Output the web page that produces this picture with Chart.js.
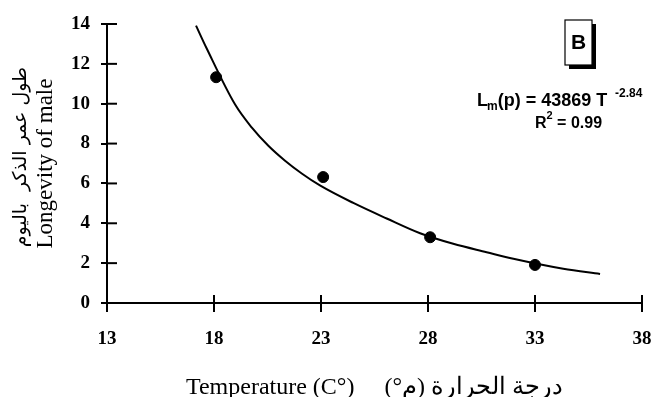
<!DOCTYPE html>
<html>
<head>
<meta charset="utf-8">
<script src="https://cdn.jsdelivr.net/npm/chart.js@4.4.1/dist/chart.umd.min.js"></script>
<style>
  html, body { margin: 0; padding: 0; background: #fff; }
  #wrap { width: 655px; height: 397px; }
</style>
</head>
<body>
<div id="wrap"><canvas id="chart" width="655" height="397"></canvas></div>
<script>
// fitted curve
const curveTemps = [17.16, 17.66, 18.98, 19.76, 20.54, 21.32, 22.1, 22.95, 24.51, 26.07, 27.63, 29.18, 30.74, 31.99, 34.32, 36.04];
const curveLongevity = [13.92, 12.77, 9.97, 8.81, 7.89, 7.14, 6.5, 5.9, 5.02, 4.24, 3.5, 2.97, 2.55, 2.22, 1.72, 1.46];

// observed points
const obsTemps = [18.1, 23.1, 28.1, 33.0];
const obsLongevity = [11.33, 6.32, 3.3, 1.91];

// axis ticks
const xMin = 13, xMax = 38, xStep = 5;
const yMin = 0, yMax = 14, yStep = 2;

const xTitle = 'Temperature (C°)     \u202Bدرجة الحرارة (م°)\u202C';
const yTitle = 'Longevity of male';
const yTitleAr = 'طول عمر الذكر  باليوم';

const serif = "'Liberation Serif', 'Times New Roman', serif";
const sans = "'Liberation Sans', Arial, sans-serif";

// ticks that cross the axis line (inner half)
const crossTicks = {
    id: 'crossTicks',
    afterDraw(chart) {
        const { ctx, scales: { x, y } } = chart;
        ctx.save();
        ctx.strokeStyle = '#000';
        ctx.lineWidth = 2;
        x.ticks.forEach(t => {
            const px = x.getPixelForValue(t.value);
            ctx.beginPath();
            ctx.moveTo(px, x.top);
            ctx.lineTo(px, x.top - 8);
            ctx.stroke();
        });
        y.ticks.forEach(t => {
            const py = y.getPixelForValue(t.value);
            ctx.beginPath();
            ctx.moveTo(y.right, py);
            ctx.lineTo(y.right + 10, py);
            ctx.stroke();
        });
        ctx.restore();
    }
};

// "B" badge, equation text, arabic line of the y title
const notes = {
    id: 'notes',
    afterDraw(chart) {
        const ctx = chart.ctx;
        ctx.save();
        ctx.fillStyle = '#000';
        ctx.fillRect(569, 24, 27, 45);
        ctx.fillStyle = '#fff';
        ctx.fillRect(565, 20, 27, 45);
        ctx.strokeStyle = '#000';
        ctx.lineWidth = 1.2;
        ctx.strokeRect(565, 20, 27, 45);
        ctx.fillStyle = '#000';
        ctx.font = 'bold 21px ' + sans;
        ctx.textAlign = 'center';
        ctx.textBaseline = 'middle';
        ctx.fillText('B', 578.5, 43);

        ctx.textAlign = 'left';
        ctx.textBaseline = 'alphabetic';
        let cx = 477;
        ctx.font = 'bold 18px ' + sans;
        ctx.fillText('L', cx, 106);
        cx += ctx.measureText('L').width - 1;
        ctx.font = 'bold 12px ' + sans;
        ctx.fillText('m', cx, 110);
        cx += ctx.measureText('m').width;
        ctx.font = 'bold 18px ' + sans;
        ctx.fillText('(p) = 43869 T', cx, 106);
        ctx.font = 'bold 12px ' + sans;
        ctx.fillText('-2.84', 615, 97);

        ctx.font = 'bold 16px ' + sans;
        ctx.fillText('R', 535, 128);
        let rx = 535 + ctx.measureText('R').width;
        ctx.font = 'bold 11px ' + sans;
        ctx.fillText('2', rx, 119);
        rx += ctx.measureText('2').width;
        ctx.font = 'bold 16px ' + sans;
        ctx.fillText(' = 0.99', rx, 128);

        // arabic line of the y axis title
        ctx.translate(21, 157);
        ctx.rotate(-Math.PI / 2);
        ctx.textAlign = 'center';
        ctx.textBaseline = 'middle';
        ctx.font = "19px 'DejaVu Sans', sans-serif";
        ctx.fillText(yTitleAr, 0, 0);
        ctx.restore();
    }
};

const tickFont = { family: serif, size: 19, weight: 'bold' };

new Chart(document.getElementById('chart'), {
    type: 'line',
    data: {
        datasets: [
            {
                type: 'line',
                data: curveTemps.map((t, i) => ({ x: t, y: curveLongevity[i] })),
                borderColor: '#000',
                borderWidth: 2,
                pointRadius: 0,
                cubicInterpolationMode: 'monotone',
                fill: false
            },
            {
                type: 'scatter',
                data: obsTemps.map((t, i) => ({ x: t, y: obsLongevity[i] })),
                backgroundColor: '#000',
                borderColor: '#000',
                pointRadius: 5.5,
                showLine: false
            }
        ]
    },
    options: {
        responsive: false,
        animation: false,
        layout: { padding: { top: 24, right: 13, left: 0, bottom: 0 } },
        plugins: { legend: { display: false }, tooltip: { enabled: false } },
        scales: {
            x: {
                type: 'linear',
                min: xMin,
                max: xMax,
                afterFit: s => {
                    s.height = 94;
                    s.paddingLeft = 0;
                    s.paddingRight = 0;
                },
                border: { display: true, color: '#000', width: 2 },
                grid: { drawOnChartArea: false, drawTicks: true, tickLength: 9, color: '#000', lineWidth: 2 },
                ticks: { stepSize: xStep, color: '#000', font: tickFont, padding: 16 },
                title: {
                    display: true,
                    text: xTitle,
                    color: '#000',
                    font: { family: serif, size: 24, lineHeight: '18px' },
                    padding: { top: 0, bottom: 0 }
                }
            },
            y: {
                min: yMin,
                max: yMax,
                afterFit: s => { s.width = 107; },
                border: { display: true, color: '#000', width: 2 },
                grid: { drawOnChartArea: false, drawTicks: true, tickLength: 6, color: '#000', lineWidth: 2 },
                ticks: { stepSize: yStep, color: '#000', font: tickFont, padding: 11 },
                title: {
                    display: true,
                    text: yTitle,
                    color: '#000',
                    font: { family: serif, size: 23, lineHeight: '24px' },
                    padding: { top: 34, bottom: 0 }
                }
            }
        }
    },
    plugins: [crossTicks, notes]
});
</script>
</body>
</html>
